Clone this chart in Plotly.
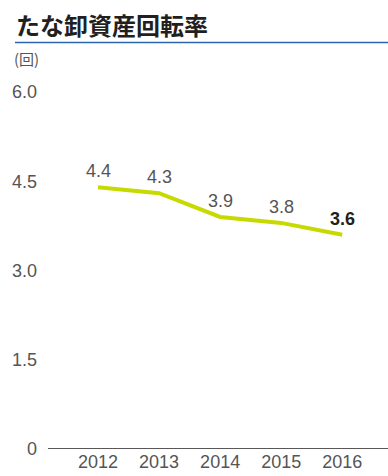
import plotly.graph_objects as go

years = ["2012", "2013", "2014", "2015", "2016"]
values = [4.4, 4.3, 3.9, 3.8, 3.6]
value_labels = ["4.4", "4.3", "3.9", "3.8", "3.6"]
y_ticks = [0, 1.5, 3.0, 4.5, 6.0]
y_tick_labels = ["0", "1.5", "3.0", "4.5", "6.0"]

title_text = "たな卸資産回転率"
unit_text = "(回)"

NUM_FONT = "Liberation Sans Narrow, Liberation Sans, Arial, sans-serif"
CJK_FONT = "Noto Sans CJK JP, sans-serif"
GREY = "#555555"

W, H = 388, 476
L, R, T, B = 48, 0, 92, 27
PW, PH = W - L - R, H - T - B


def px_x(x):
    return (x - L) / PW


def px_y(y):
    return 1 + (T - y) / PH


fig = go.Figure()
fig.add_trace(go.Scatter(
    x=years, y=values, mode="lines",
    line=dict(color="#c6da00", width=4),
    hoverinfo="skip", showlegend=False,
))

annotations = []
for i, (v, lab) in enumerate(zip(values, value_labels)):
    last = i == len(years) - 1
    annotations.append(dict(
        x=i, y=v, xref="x", yref="y",
        text=f"<b>{lab}</b>" if last else lab,
        showarrow=False, yshift=16,
        font=dict(family=NUM_FONT, size=18, color="#231f20" if last else GREY),
    ))

annotations.append(dict(
    x=px_x(14), y=px_y(24.5), xref="paper", yref="paper",
    text=f"<b>{title_text}</b>", showarrow=False,
    xanchor="left", yanchor="middle",
    font=dict(family=CJK_FONT, size=24, color="#231f20"),
))
annotations.append(dict(
    x=px_x(12), y=px_y(59), xref="paper", yref="paper",
    text=unit_text, showarrow=False,
    xanchor="left", yanchor="middle",
    font=dict(family=CJK_FONT, size=15, color=GREY),
))

shapes = [
    dict(type="line", xref="paper", yref="paper",
         x0=px_x(15), x1=px_x(388), y0=px_y(42.5), y1=px_y(42.5),
         line=dict(color="#2b67b1", width=1.5)),
    dict(type="line", xref="paper", yref="y", x0=0, x1=1, y0=0, y1=0,
         line=dict(color="#231f20", width=1.5)),
]

fig.update_layout(
    width=W, height=H,
    margin=dict(l=L, r=R, t=T, b=B),
    paper_bgcolor="white", plot_bgcolor="white",
    showlegend=False,
    annotations=annotations,
    shapes=shapes,
    xaxis=dict(
        type="category", range=[-0.82, 4.75],
        showgrid=False, zeroline=False,
        showline=False, ticks="",
        tickfont=dict(family=NUM_FONT, size=18, color=GREY),
    ),
    yaxis=dict(
        range=[0, 6.0], tickvals=y_ticks, ticktext=y_tick_labels,
        showgrid=False, zeroline=False, showline=False, ticks="",
        ticklabelstandoff=10,
        tickfont=dict(family=NUM_FONT, size=18, color=GREY),
    ),
)

fig.write_html("out.html")
